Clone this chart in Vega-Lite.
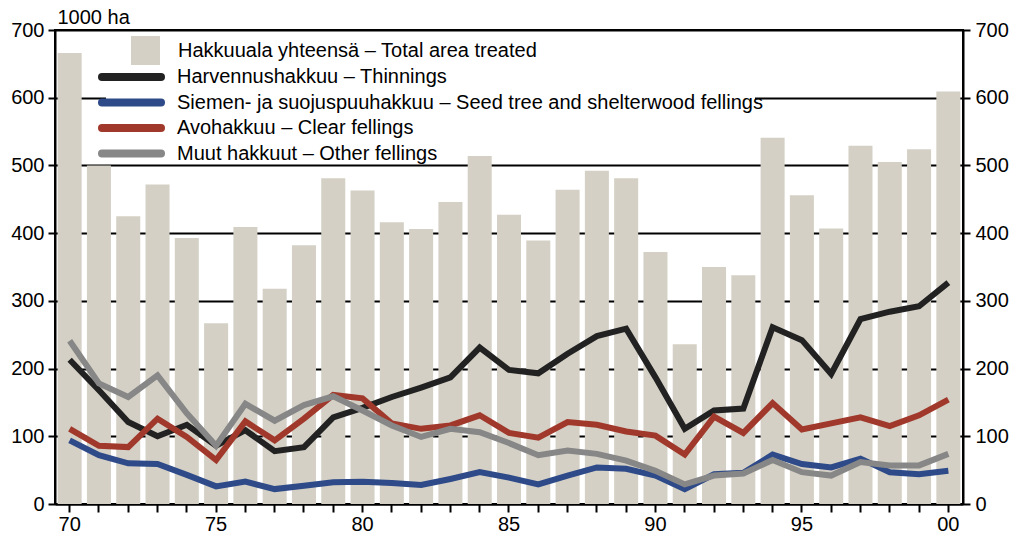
{
  "$schema": "https://vega.github.io/schema/vega-lite/v6.json",
  "width": 908,
  "height": 474,
  "autosize": {"type": "none"},
  "padding": {"left": 55, "top": 30, "right": 53, "bottom": 36},
  "background": "white",
  "config": {
    "font": "Liberation Sans",
    "view": {"stroke": "black", "strokeWidth": 2},
    "axis": {
      "domainColor": "black",
      "domainWidth": 2,
      "tickColor": "black",
      "tickWidth": 2,
      "labelColor": "black",
      "labelFont": "Liberation Sans",
      "labelFontSize": 20
    }
  },
  "datasets": {
    "bars": [
      {"year": 1970, "total": 666}, {"year": 1971, "total": 500}, {"year": 1972, "total": 425},
      {"year": 1973, "total": 472}, {"year": 1974, "total": 393}, {"year": 1975, "total": 267},
      {"year": 1976, "total": 409}, {"year": 1977, "total": 318}, {"year": 1978, "total": 382},
      {"year": 1979, "total": 481}, {"year": 1980, "total": 463}, {"year": 1981, "total": 416},
      {"year": 1982, "total": 406}, {"year": 1983, "total": 446}, {"year": 1984, "total": 514},
      {"year": 1985, "total": 427}, {"year": 1986, "total": 389}, {"year": 1987, "total": 464},
      {"year": 1988, "total": 492}, {"year": 1989, "total": 481}, {"year": 1990, "total": 372},
      {"year": 1991, "total": 236}, {"year": 1992, "total": 350}, {"year": 1993, "total": 338},
      {"year": 1994, "total": 541}, {"year": 1995, "total": 456}, {"year": 1996, "total": 407},
      {"year": 1997, "total": 529}, {"year": 1998, "total": 505}, {"year": 1999, "total": 524},
      {"year": 2000, "total": 609}
    ],
    "lines": [
      {"year": 1970, "series": "Harvennushakkuu – Thinnings", "value": 213},
      {"year": 1971, "series": "Harvennushakkuu – Thinnings", "value": 168},
      {"year": 1972, "series": "Harvennushakkuu – Thinnings", "value": 121},
      {"year": 1973, "series": "Harvennushakkuu – Thinnings", "value": 100},
      {"year": 1974, "series": "Harvennushakkuu – Thinnings", "value": 117},
      {"year": 1975, "series": "Harvennushakkuu – Thinnings", "value": 86},
      {"year": 1976, "series": "Harvennushakkuu – Thinnings", "value": 109},
      {"year": 1977, "series": "Harvennushakkuu – Thinnings", "value": 78},
      {"year": 1978, "series": "Harvennushakkuu – Thinnings", "value": 84},
      {"year": 1979, "series": "Harvennushakkuu – Thinnings", "value": 128},
      {"year": 1980, "series": "Harvennushakkuu – Thinnings", "value": 142},
      {"year": 1981, "series": "Harvennushakkuu – Thinnings", "value": 158},
      {"year": 1982, "series": "Harvennushakkuu – Thinnings", "value": 172},
      {"year": 1983, "series": "Harvennushakkuu – Thinnings", "value": 187},
      {"year": 1984, "series": "Harvennushakkuu – Thinnings", "value": 231},
      {"year": 1985, "series": "Harvennushakkuu – Thinnings", "value": 198},
      {"year": 1986, "series": "Harvennushakkuu – Thinnings", "value": 193},
      {"year": 1987, "series": "Harvennushakkuu – Thinnings", "value": 222},
      {"year": 1988, "series": "Harvennushakkuu – Thinnings", "value": 248},
      {"year": 1989, "series": "Harvennushakkuu – Thinnings", "value": 259},
      {"year": 1990, "series": "Harvennushakkuu – Thinnings", "value": 187},
      {"year": 1991, "series": "Harvennushakkuu – Thinnings", "value": 111},
      {"year": 1992, "series": "Harvennushakkuu – Thinnings", "value": 138},
      {"year": 1993, "series": "Harvennushakkuu – Thinnings", "value": 141},
      {"year": 1994, "series": "Harvennushakkuu – Thinnings", "value": 261},
      {"year": 1995, "series": "Harvennushakkuu – Thinnings", "value": 242},
      {"year": 1996, "series": "Harvennushakkuu – Thinnings", "value": 192},
      {"year": 1997, "series": "Harvennushakkuu – Thinnings", "value": 273},
      {"year": 1998, "series": "Harvennushakkuu – Thinnings", "value": 284},
      {"year": 1999, "series": "Harvennushakkuu – Thinnings", "value": 292},
      {"year": 2000, "series": "Harvennushakkuu – Thinnings", "value": 327},

      {"year": 1970, "series": "Siemen- ja suojuspuuhakkuu – Seed tree and shelterwood fellings", "value": 94},
      {"year": 1971, "series": "Siemen- ja suojuspuuhakkuu – Seed tree and shelterwood fellings", "value": 72},
      {"year": 1972, "series": "Siemen- ja suojuspuuhakkuu – Seed tree and shelterwood fellings", "value": 60},
      {"year": 1973, "series": "Siemen- ja suojuspuuhakkuu – Seed tree and shelterwood fellings", "value": 59},
      {"year": 1974, "series": "Siemen- ja suojuspuuhakkuu – Seed tree and shelterwood fellings", "value": 43},
      {"year": 1975, "series": "Siemen- ja suojuspuuhakkuu – Seed tree and shelterwood fellings", "value": 26},
      {"year": 1976, "series": "Siemen- ja suojuspuuhakkuu – Seed tree and shelterwood fellings", "value": 33},
      {"year": 1977, "series": "Siemen- ja suojuspuuhakkuu – Seed tree and shelterwood fellings", "value": 22},
      {"year": 1978, "series": "Siemen- ja suojuspuuhakkuu – Seed tree and shelterwood fellings", "value": 27},
      {"year": 1979, "series": "Siemen- ja suojuspuuhakkuu – Seed tree and shelterwood fellings", "value": 32},
      {"year": 1980, "series": "Siemen- ja suojuspuuhakkuu – Seed tree and shelterwood fellings", "value": 33},
      {"year": 1981, "series": "Siemen- ja suojuspuuhakkuu – Seed tree and shelterwood fellings", "value": 31},
      {"year": 1982, "series": "Siemen- ja suojuspuuhakkuu – Seed tree and shelterwood fellings", "value": 28},
      {"year": 1983, "series": "Siemen- ja suojuspuuhakkuu – Seed tree and shelterwood fellings", "value": 37},
      {"year": 1984, "series": "Siemen- ja suojuspuuhakkuu – Seed tree and shelterwood fellings", "value": 47},
      {"year": 1985, "series": "Siemen- ja suojuspuuhakkuu – Seed tree and shelterwood fellings", "value": 39},
      {"year": 1986, "series": "Siemen- ja suojuspuuhakkuu – Seed tree and shelterwood fellings", "value": 29},
      {"year": 1987, "series": "Siemen- ja suojuspuuhakkuu – Seed tree and shelterwood fellings", "value": 42},
      {"year": 1988, "series": "Siemen- ja suojuspuuhakkuu – Seed tree and shelterwood fellings", "value": 54},
      {"year": 1989, "series": "Siemen- ja suojuspuuhakkuu – Seed tree and shelterwood fellings", "value": 52},
      {"year": 1990, "series": "Siemen- ja suojuspuuhakkuu – Seed tree and shelterwood fellings", "value": 42},
      {"year": 1991, "series": "Siemen- ja suojuspuuhakkuu – Seed tree and shelterwood fellings", "value": 22},
      {"year": 1992, "series": "Siemen- ja suojuspuuhakkuu – Seed tree and shelterwood fellings", "value": 44},
      {"year": 1993, "series": "Siemen- ja suojuspuuhakkuu – Seed tree and shelterwood fellings", "value": 46},
      {"year": 1994, "series": "Siemen- ja suojuspuuhakkuu – Seed tree and shelterwood fellings", "value": 73},
      {"year": 1995, "series": "Siemen- ja suojuspuuhakkuu – Seed tree and shelterwood fellings", "value": 59},
      {"year": 1996, "series": "Siemen- ja suojuspuuhakkuu – Seed tree and shelterwood fellings", "value": 54},
      {"year": 1997, "series": "Siemen- ja suojuspuuhakkuu – Seed tree and shelterwood fellings", "value": 67},
      {"year": 1998, "series": "Siemen- ja suojuspuuhakkuu – Seed tree and shelterwood fellings", "value": 47},
      {"year": 1999, "series": "Siemen- ja suojuspuuhakkuu – Seed tree and shelterwood fellings", "value": 44},
      {"year": 2000, "series": "Siemen- ja suojuspuuhakkuu – Seed tree and shelterwood fellings", "value": 49},

      {"year": 1970, "series": "Avohakkuu – Clear fellings", "value": 111},
      {"year": 1971, "series": "Avohakkuu – Clear fellings", "value": 86},
      {"year": 1972, "series": "Avohakkuu – Clear fellings", "value": 84},
      {"year": 1973, "series": "Avohakkuu – Clear fellings", "value": 126},
      {"year": 1974, "series": "Avohakkuu – Clear fellings", "value": 99},
      {"year": 1975, "series": "Avohakkuu – Clear fellings", "value": 65},
      {"year": 1976, "series": "Avohakkuu – Clear fellings", "value": 122},
      {"year": 1977, "series": "Avohakkuu – Clear fellings", "value": 94},
      {"year": 1978, "series": "Avohakkuu – Clear fellings", "value": 126},
      {"year": 1979, "series": "Avohakkuu – Clear fellings", "value": 161},
      {"year": 1980, "series": "Avohakkuu – Clear fellings", "value": 156},
      {"year": 1981, "series": "Avohakkuu – Clear fellings", "value": 119},
      {"year": 1982, "series": "Avohakkuu – Clear fellings", "value": 111},
      {"year": 1983, "series": "Avohakkuu – Clear fellings", "value": 116},
      {"year": 1984, "series": "Avohakkuu – Clear fellings", "value": 131},
      {"year": 1985, "series": "Avohakkuu – Clear fellings", "value": 105},
      {"year": 1986, "series": "Avohakkuu – Clear fellings", "value": 98},
      {"year": 1987, "series": "Avohakkuu – Clear fellings", "value": 121},
      {"year": 1988, "series": "Avohakkuu – Clear fellings", "value": 117},
      {"year": 1989, "series": "Avohakkuu – Clear fellings", "value": 107},
      {"year": 1990, "series": "Avohakkuu – Clear fellings", "value": 101},
      {"year": 1991, "series": "Avohakkuu – Clear fellings", "value": 73},
      {"year": 1992, "series": "Avohakkuu – Clear fellings", "value": 129},
      {"year": 1993, "series": "Avohakkuu – Clear fellings", "value": 105},
      {"year": 1994, "series": "Avohakkuu – Clear fellings", "value": 149},
      {"year": 1995, "series": "Avohakkuu – Clear fellings", "value": 110},
      {"year": 1996, "series": "Avohakkuu – Clear fellings", "value": 119},
      {"year": 1997, "series": "Avohakkuu – Clear fellings", "value": 128},
      {"year": 1998, "series": "Avohakkuu – Clear fellings", "value": 115},
      {"year": 1999, "series": "Avohakkuu – Clear fellings", "value": 131},
      {"year": 2000, "series": "Avohakkuu – Clear fellings", "value": 154},

      {"year": 1970, "series": "Muut hakkuut – Other fellings", "value": 241},
      {"year": 1971, "series": "Muut hakkuut – Other fellings", "value": 178},
      {"year": 1972, "series": "Muut hakkuut – Other fellings", "value": 158},
      {"year": 1973, "series": "Muut hakkuut – Other fellings", "value": 190},
      {"year": 1974, "series": "Muut hakkuut – Other fellings", "value": 134},
      {"year": 1975, "series": "Muut hakkuut – Other fellings", "value": 86},
      {"year": 1976, "series": "Muut hakkuut – Other fellings", "value": 148},
      {"year": 1977, "series": "Muut hakkuut – Other fellings", "value": 123},
      {"year": 1978, "series": "Muut hakkuut – Other fellings", "value": 146},
      {"year": 1979, "series": "Muut hakkuut – Other fellings", "value": 159},
      {"year": 1980, "series": "Muut hakkuut – Other fellings", "value": 138},
      {"year": 1981, "series": "Muut hakkuut – Other fellings", "value": 116},
      {"year": 1982, "series": "Muut hakkuut – Other fellings", "value": 99},
      {"year": 1983, "series": "Muut hakkuut – Other fellings", "value": 111},
      {"year": 1984, "series": "Muut hakkuut – Other fellings", "value": 106},
      {"year": 1985, "series": "Muut hakkuut – Other fellings", "value": 90},
      {"year": 1986, "series": "Muut hakkuut – Other fellings", "value": 72},
      {"year": 1987, "series": "Muut hakkuut – Other fellings", "value": 79},
      {"year": 1988, "series": "Muut hakkuut – Other fellings", "value": 74},
      {"year": 1989, "series": "Muut hakkuut – Other fellings", "value": 64},
      {"year": 1990, "series": "Muut hakkuut – Other fellings", "value": 49},
      {"year": 1991, "series": "Muut hakkuut – Other fellings", "value": 29},
      {"year": 1992, "series": "Muut hakkuut – Other fellings", "value": 42},
      {"year": 1993, "series": "Muut hakkuut – Other fellings", "value": 45},
      {"year": 1994, "series": "Muut hakkuut – Other fellings", "value": 65},
      {"year": 1995, "series": "Muut hakkuut – Other fellings", "value": 47},
      {"year": 1996, "series": "Muut hakkuut – Other fellings", "value": 42},
      {"year": 1997, "series": "Muut hakkuut – Other fellings", "value": 62},
      {"year": 1998, "series": "Muut hakkuut – Other fellings", "value": 57},
      {"year": 1999, "series": "Muut hakkuut – Other fellings", "value": 57},
      {"year": 2000, "series": "Muut hakkuut – Other fellings", "value": 74}
    ]
  },
  "layer": [
    {
      "data": {"name": "bars"},
      "mark": {"type": "bar"},
      "encoding": {
        "x": {
          "field": "year",
          "type": "ordinal",
          "scale": {"paddingInner": 0.18, "paddingOuter": 0.09},
          "axis": {
            "title": null,
            "tickSize": 8,
            "labelPadding": 2,
            "labelAngle": 0,
            "labelOverlap": false,
            "labelExpr": "datum.value % 5 == 0 ? slice(toString(datum.value), 2) : ''"
          }
        },
        "y": {
          "field": "total",
          "type": "quantitative",
          "scale": {"domain": [0, 700], "nice": false},
          "axis": {
            "orient": "left",
            "values": [0, 100, 200, 300, 400, 500, 600, 700],
            "grid": true,
            "gridColor": "black",
            "gridWidth": 2,
            "gridOpacity": 1,
            "tickSize": 7,
            "labelPadding": 4,
            "title": "1000 ha",
            "titleFont": "Liberation Sans",
            "titleFontSize": 20,
            "titleFontWeight": "normal",
            "titleColor": "black",
            "titleAngle": 0,
            "titleAlign": "left",
            "titleBaseline": "alphabetic",
            "titleX": 2,
            "titleY": -7
          }
        },
        "fill": {
          "datum": "Hakkuuala yhteensä – Total area treated",
          "type": "nominal",
          "scale": {"range": ["#d4d0c5"]},
          "legend": {
            "title": null,
            "orient": "none",
            "legendX": 76,
            "legendY": 6,
            "padding": 0,
            "symbolType": "square",
            "symbolSize": 841,
            "symbolStrokeWidth": 0,
            "symbolOpacity": 1,
            "clipHeight": 29,
            "labelOffset": 18,
            "labelFont": "Liberation Sans",
            "labelFontSize": 20,
            "labelColor": "black",
            "labelLimit": 900,
            "fillColor": "white"
          }
        }
      }
    },
    {
      "data": {"name": "lines"},
      "mark": {"type": "line", "strokeWidth": 6},
      "encoding": {
        "x": {"field": "year", "type": "ordinal"},
        "y": {
          "field": "value",
          "type": "quantitative",
          "scale": {"domain": [0, 700], "nice": false},
          "axis": {
            "orient": "right",
            "values": [0, 100, 200, 300, 400, 500, 600, 700],
            "grid": false,
            "tickSize": 7,
            "labelPadding": 5,
            "title": null
          }
        },
        "stroke": {
          "field": "series",
          "type": "nominal",
          "scale": {
            "domain": [
              "Harvennushakkuu – Thinnings",
              "Siemen- ja suojuspuuhakkuu – Seed tree and shelterwood fellings",
              "Avohakkuu – Clear fellings",
              "Muut hakkuut – Other fellings"
            ],
            "range": ["#222222", "#2e4a88", "#a0392b", "#878787"]
          },
          "legend": {
            "title": null,
            "orient": "none",
            "legendX": 51,
            "legendY": 45,
            "padding": -8,
            "symbolType": "stroke",
            "symbolSize": 3481,
            "symbolStrokeWidth": 8,
            "clipHeight": 20,
            "rowPadding": 5.5,
            "labelOffset": 12,
            "labelFont": "Liberation Sans",
            "labelFontSize": 20,
            "labelColor": "black",
            "labelLimit": 900,
            "fillColor": "white",
            "encode": {"symbols": {"update": {"strokeCap": {"value": "round"}}}}
          }
        }
      }
    }
  ],
  "resolve": {"axis": {"y": "independent"}}
}
